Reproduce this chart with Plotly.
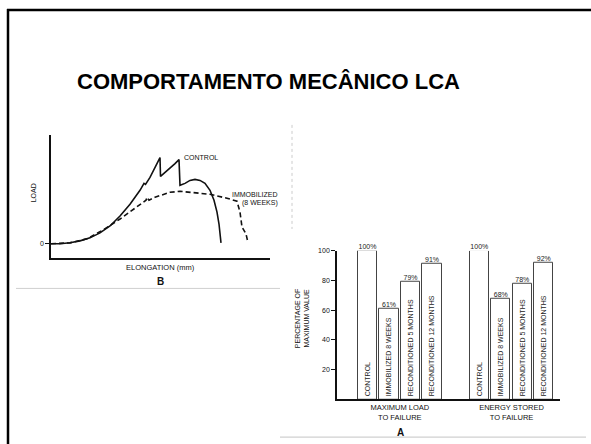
import plotly.graph_objects as go

W, H = 591, 444

# ---------------- data ----------------
# Panel B: load-elongation curves (arbitrary units)
control_elong = [0, 9, 19, 29, 39, 49, 59, 69, 79, 89, 93, 94.5, 99, 104, 109, 109.5,
                 114, 119, 124, 128, 129, 134, 139, 144, 149, 154, 159, 163, 166, 168, 169, 170]
control_load = [0, 0, 1, 3, 6, 11, 18, 28, 40, 54, 61, 60, 67, 77, 87, 68,
                72, 76, 81, 85, 59, 61, 64, 65, 64, 61, 54, 44, 32, 20, 10, 1]
immob_elong = [0, 19, 36, 52, 69, 86, 95, 96, 98, 104, 119, 129, 142, 159, 176, 186, 189, 191, 195, 197]
immob_load = [0, 1, 5, 14, 25, 38, 44, 47, 44, 47, 52, 53, 52, 50, 46, 43, 32, 17, 10, 1]

# Panel A: percentage of maximum value
groups = ["MAXIMUM LOAD<br>TO FAILURE", "ENERGY STORED<br>TO FAILURE"]
conditions = ["CONTROL", "IMMOBILIZED 8 WEEKS", "RECONDITIONED 5 MONTHS", "RECONDITIONED 12 MONTHS"]
max_load_pct = [100, 61, 79, 91]
energy_pct = [100, 68, 78, 92]
y_ticks = [20, 40, 60, 80, 100]

# ---------------- helpers ----------------
def px(x):
    return x / W

def py(y):
    return 1 - y / H

FONT = "Arial, Liberation Sans, Helvetica, sans-serif"
INK = "#111111"

fig = go.Figure()

# Panel B curves
fig.add_trace(go.Scatter(x=control_elong, y=control_load, mode="lines",
                         line=dict(color="#111", width=1.6), xaxis="x", yaxis="y",
                         showlegend=False, hoverinfo="skip"))
fig.add_trace(go.Scatter(x=immob_elong, y=immob_load, mode="lines",
                         line=dict(color="#111", width=1.6, dash="5px,3px"), xaxis="x", yaxis="y",
                         showlegend=False, hoverinfo="skip"))

# Panel A bars
gap = 5.2
xs, vals, labels = [], [], []
for g, series in enumerate([max_load_pct, energy_pct]):
    for i, v in enumerate(series):
        xs.append(1 + g * gap + i)
        vals.append(v)
        labels.append(conditions[i])

fig.add_trace(go.Bar(x=xs, y=vals, width=0.9, xaxis="x2", yaxis="y2",
                     marker=dict(color="white", line=dict(color="#444", width=1)),
                     text=labels, textposition="inside", insidetextanchor="start",
                     textangle=-90, constraintext="none",
                     textfont=dict(family=FONT, size=7, color="#222"),
                     showlegend=False, hoverinfo="skip"))
fig.add_trace(go.Scatter(x=xs, y=vals, mode="text", text=[f"{v}%" for v in vals],
                         textposition="top center", xaxis="x2", yaxis="y2",
                         cliponaxis=False,
                         textfont=dict(family=FONT, size=7, color="#222"),
                         showlegend=False, hoverinfo="skip"))

group_centers = [1 + g * gap + 1.5 for g in range(len(groups))]

fig.update_layout(
    width=W, height=H, margin=dict(l=0, r=0, t=0, b=0),
    paper_bgcolor="white", plot_bgcolor="rgba(0,0,0,0)",
    font=dict(family=FONT, color=INK),
    xaxis=dict(domain=[px(51), px(270)], range=[0, 219], anchor="y",
               showline=True, linecolor="#111", linewidth=1.6,
               showgrid=False, zeroline=False, showticklabels=False, ticks=""),
    yaxis=dict(domain=[py(256), py(132)], range=[-14, 110], anchor="x",
               showline=True, linecolor="#111", linewidth=1.6,
               showgrid=False, zeroline=False, tickvals=[0], ticktext=["0"],
               ticks="outside", ticklen=4, tickcolor="#111",
               tickfont=dict(size=7, color=INK)),
    xaxis2=dict(domain=[px(337), px(560)], range=[-0.419, 9.953], anchor="y2",
                showline=True, linecolor="#111", linewidth=2,
                showgrid=False, zeroline=False, ticks="",
                tickvals=group_centers, ticktext=groups,
                tickfont=dict(size=7.5, color=INK)),
    yaxis2=dict(domain=[py(399), py(249)], range=[0, 100], anchor="x2",
                showline=True, linecolor="#111", linewidth=1.6,
                showgrid=False, zeroline=False, tickvals=y_ticks,
                ticks="outside", ticklen=4, tickcolor="#111",
                tickfont=dict(size=7, color=INK)),
    bargap=0,
)

ann = [
    dict(x=px(268), y=py(78), text="<b>COMPORTAMENTO MECÂNICO LCA</b>",
         font=dict(size=22, color="black")),
    dict(x=px(33), y=py(191), text="LOAD", textangle=-90, font=dict(size=7)),
    dict(x=px(160), y=py(266), text="ELONGATION (mm)", font=dict(size=7.5)),
    dict(x=px(160), y=py(280), text="<b>B</b>", font=dict(size=10)),
    dict(x=px(182), y=py(155), text="CONTROL", xanchor="left", font=dict(size=7)),
    dict(x=px(280), y=py(192), text="IMMOBILIZED", xanchor="right", font=dict(size=7)),
    dict(x=px(280), y=py(201), text="(8 WEEKS)", xanchor="right", font=dict(size=7)),
    dict(x=px(302), y=py(318), text="PERCENTAGE OF<br>MAXIMUM VALUE", textangle=-90,
         font=dict(size=7)),
    dict(x=px(400), y=py(432), text="<b>A</b>", font=dict(size=10)),
]
for a in ann:
    a.update(xref="paper", yref="paper", showarrow=False)
    a.setdefault("xanchor", "center")
    a["yanchor"] = "middle"
fig.update_layout(annotations=ann)

shapes = [
    # slide border (top and left)
    dict(type="line", x0=px(7), x1=px(592), y0=py(6), y1=py(6), line=dict(color="black", width=2.5)),
    dict(type="line", x0=px(8), x1=px(8), y0=py(5), y1=py(445), line=dict(color="black", width=2.5)),
    # scan edges
    dict(type="line", x0=px(16), x1=px(280), y0=py(287), y1=py(287), line=dict(color="#cfcfcf", width=1)),
    dict(type="line", x0=px(280), x1=px(586), y0=py(437), y1=py(437), line=dict(color="#d0d0d0", width=1.2)),
    dict(type="line", x0=px(292), x1=px(292), y0=py(122), y1=py(227),
         line=dict(color="#cccccc", width=1, dash="dot")),
]
for s in shapes:
    s.update(xref="paper", yref="paper")
fig.update_layout(shapes=shapes)

fig.write_html(
    "out.html",
    config={"displayModeBar": False},
    post_script="document.body.style.margin='0';document.body.style.overflow='hidden';",
)
